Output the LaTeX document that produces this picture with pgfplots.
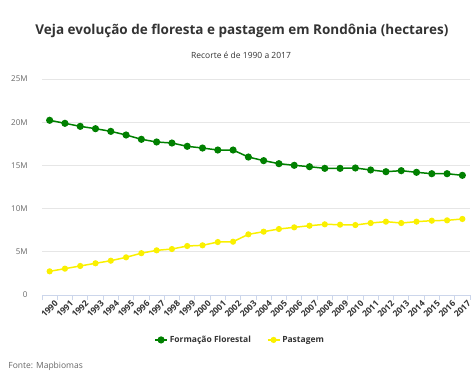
\documentclass[border=0pt]{standalone}
\usepackage{pgfplots}
\pgfplotsset{compat=1.18}
\usepackage{fontspec}
\setmainfont{Open Sans}
\definecolor{forest}{RGB}{0,128,0}
\definecolor{pasto}{RGB}{250,240,0}
\definecolor{gridc}{RGB}{230,230,230}
\definecolor{axc}{RGB}{204,214,235}
\definecolor{txt}{RGB}{51,51,51}
\definecolor{lab}{RGB}{102,102,102}
\begin{document}
\begin{tikzpicture}
\useasboundingbox (0,0) rectangle (474bp,385bp);
\begin{axis}[
  at={(42bp,90bp)}, anchor=south west,
  scale only axis, width=428bp, height=216bp,
  xmin=-0.5, xmax=27.5, ymin=0, ymax=25,
  axis x line*=bottom, axis y line*=left,
  x axis line style={axc, line width=0.8pt, -},
  y axis line style={draw=none},
  xtick={0,...,27},
  xticklabels={1990,1991,1992,1993,1994,1995,1996,1997,1998,1999,2000,2001,2002,2003,2004,2005,2006,2007,2008,2009,2010,2011,2012,2013,2014,2015,2016,2017},
  major x tick style={draw=none},
  major y tick style={draw=none},
  minor xtick={-0.5,0.5,...,27.5},
  minor x tick style={axc, line width=0.8pt},
  minor tick length=5bp,
  tick align=outside,
  x tick label style={rotate=45, anchor=north east, font=\fontsize{8.5bp}{10bp}\selectfont\bfseries, text=txt, inner sep=0.5pt, yshift=-3bp, xshift=3.5bp},
  ytick={0,5,10,15,20,25},
  yticklabels={0,5M,10M,15M,20M,25M},
  ymajorgrids, grid style={gridc, line width=0.8pt},
  y tick label style={font=\fontsize{8bp}{9bp}\selectfont, text=lab, inner sep=0pt, xshift=-10bp},
  clip=false,
  legend columns=2,
  legend style={at={(axis description cs:0.463,-0.208)}, anchor=center, draw=none, fill=none,
    font=\fontsize{8.5bp}{10bp}\selectfont\bfseries, text=txt,
    /tikz/every even column/.append style={column sep=14bp}},
  legend image code/.code={\draw[#1] (0cm,0cm) -- (0.42cm,0cm); \draw[#1, only marks] plot coordinates {(0.21cm,0cm)};},
]
\addplot[forest, line width=1.5pt, mark=*, mark size=2.8bp, mark options={solid}] coordinates {
(0,20.22)(1,19.87)(2,19.52)(3,19.25)(4,18.94)(5,18.52)(6,18.02)(7,17.71)(8,17.59)(9,17.21)
(10,17.01)(11,16.78)(12,16.78)(13,15.97)(14,15.55)(15,15.20)(16,15.01)(17,14.85)(18,14.66)(19,14.66)
(20,14.70)(21,14.47)(22,14.27)(23,14.39)(24,14.20)(25,14.04)(26,14.04)(27,13.85)};
\addlegendentry{Formação Florestal}
\addplot[pasto, line width=1.5pt, mark=*, mark size=2.3bp, mark options={solid}] coordinates {
(0,2.74)(1,3.05)(2,3.36)(3,3.67)(4,3.97)(5,4.36)(6,4.84)(7,5.17)(8,5.32)(9,5.67)
(10,5.75)(11,6.13)(12,6.17)(13,7.02)(14,7.33)(15,7.64)(16,7.83)(17,8.02)(18,8.18)(19,8.14)
(20,8.10)(21,8.33)(22,8.49)(23,8.33)(24,8.49)(25,8.60)(26,8.64)(27,8.80)};
\addlegendentry{Pastagem}
\node[font=\fontsize{13.5bp}{16bp}\selectfont\bfseries, text=txt] at (axis description cs:0.467,1.222) {Veja evolução de floresta e pastagem em Rondônia (hectares)};
\node[font=\fontsize{8.5bp}{10bp}\selectfont, text=txt] at (axis description cs:0.465,1.111) {Recorte é de 1990 a 2017};
\node[anchor=west, font=\fontsize{8.5bp}{10bp}\selectfont, text=lab, inner sep=0pt] at (axis description cs:-0.079,-0.329) {Fonte: Mapbiomas};
\end{axis}
\end{tikzpicture}
\end{document}
